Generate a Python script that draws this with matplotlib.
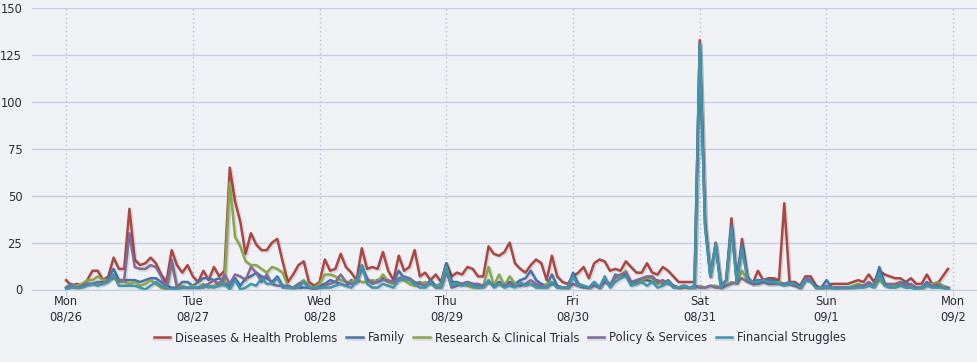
import matplotlib
matplotlib.use('Agg')
import matplotlib.pyplot as plt
import matplotlib.patheffects as pe
import numpy as np
import pandas as pd

# hourly counts, Mon 08/26 00:00 .. Sun 09/1 23:00
times = pd.date_range('2019-08-26', periods=168, freq='h')

diseases = [
    5, 2, 3, 2, 5, 10, 10, 5, 7, 17, 11, 11, 43, 16, 13, 14, 17, 14, 8, 4, 21, 13, 9, 13,
    7, 4, 10, 5, 12, 7, 10, 65, 47, 36, 19, 30, 24, 21, 21, 25, 27, 15, 4, 8, 13, 15, 4, 2,
    4, 16, 10, 11, 19, 12, 9, 5, 22, 11, 12, 11, 20, 10, 5, 18, 10, 12, 21, 7, 9, 5, 8, 4,
    14, 7, 9, 8, 12, 11, 7, 7, 23, 19, 18, 20, 25, 14, 11, 9, 13, 16, 14, 5, 18, 7, 4, 3,
    7, 9, 12, 6, 14, 16, 15, 10, 11, 10, 15, 12, 9, 9, 14, 9, 8, 12, 10, 7, 4, 4, 4, 4,
    133, 36, 7, 25, 2, 5, 38, 4, 27, 7, 3, 10, 5, 6, 6, 5, 46, 4, 4, 2, 7, 7, 2, 1,
    1, 3, 3, 3, 3, 4, 5, 4, 8, 4, 10, 8, 7, 6, 6, 4, 6, 3, 3, 8, 3, 3, 7, 11,
]
family = [
    1, 3, 1, 2, 3, 3, 4, 4, 6, 11, 5, 5, 5, 5, 4, 5, 6, 6, 4, 2, 1, 1, 4, 4,
    2, 4, 6, 6, 5, 6, 4, 1, 6, 2, 6, 7, 9, 7, 6, 4, 7, 2, 1, 1, 1, 1, 1, 1,
    2, 3, 5, 4, 3, 2, 5, 4, 13, 5, 4, 5, 6, 4, 4, 10, 6, 6, 3, 4, 2, 5, 2, 3,
    14, 4, 4, 3, 4, 3, 2, 2, 4, 2, 4, 3, 4, 3, 5, 6, 10, 5, 3, 2, 8, 2, 1, 1,
    9, 3, 2, 1, 4, 1, 6, 2, 8, 7, 8, 3, 4, 5, 5, 4, 5, 3, 5, 2, 1, 2, 1, 1,
    131, 35, 7, 24, 1, 5, 34, 4, 24, 6, 4, 5, 5, 5, 5, 4, 3, 4, 3, 1, 6, 5, 1, 1,
    5, 1, 1, 1, 1, 1, 2, 2, 3, 2, 12, 3, 2, 2, 3, 4, 2, 1, 1, 4, 2, 2, 2, 1,
]
research = [
    1, 2, 2, 3, 5, 5, 7, 5, 5, 6, 4, 4, 3, 4, 2, 3, 5, 3, 1, 0, 14, 1, 2, 1,
    2, 1, 3, 1, 2, 4, 2, 57, 28, 23, 15, 13, 13, 11, 9, 12, 11, 9, 2, 1, 3, 5, 2, 1,
    3, 8, 8, 7, 5, 4, 4, 5, 4, 4, 5, 4, 8, 4, 3, 5, 5, 3, 2, 3, 4, 3, 2, 2,
    12, 3, 3, 3, 2, 1, 1, 2, 12, 2, 8, 2, 7, 3, 2, 3, 3, 2, 1, 3, 4, 1, 1, 1,
    3, 2, 2, 1, 3, 1, 5, 3, 6, 7, 10, 3, 3, 5, 6, 6, 3, 4, 4, 2, 1, 1, 1, 1,
    2, 1, 2, 2, 1, 2, 4, 3, 10, 5, 3, 3, 4, 3, 3, 4, 3, 3, 2, 1, 5, 5, 1, 1,
    1, 1, 1, 1, 1, 2, 3, 2, 3, 2, 5, 2, 2, 2, 3, 2, 2, 1, 1, 2, 3, 4, 2, 1,
]
policy = [
    1, 2, 1, 2, 3, 3, 4, 3, 5, 8, 5, 5, 30, 12, 11, 11, 13, 12, 7, 1, 16, 1, 1, 1,
    1, 1, 2, 3, 5, 2, 8, 3, 8, 7, 5, 12, 9, 4, 8, 3, 2, 2, 2, 1, 3, 4, 1, 0,
    1, 2, 3, 4, 8, 4, 3, 4, 11, 6, 3, 4, 5, 5, 4, 6, 7, 6, 4, 3, 2, 4, 1, 1,
    10, 1, 2, 3, 4, 3, 3, 2, 4, 2, 3, 2, 3, 2, 2, 3, 5, 3, 2, 1, 3, 2, 1, 1,
    3, 2, 1, 1, 2, 1, 4, 2, 7, 8, 9, 4, 5, 6, 7, 7, 4, 5, 3, 2, 1, 2, 1, 2,
    1, 1, 2, 1, 1, 2, 3, 4, 6, 4, 3, 3, 4, 3, 3, 3, 3, 3, 2, 1, 6, 5, 1, 1,
    2, 1, 1, 1, 1, 1, 2, 2, 4, 2, 8, 3, 3, 3, 4, 2, 3, 1, 1, 3, 2, 3, 1, 1,
]
financial = [
    0, 1, 1, 1, 2, 3, 2, 3, 4, 8, 2, 2, 2, 2, 1, 0, 2, 4, 2, 1, 0, 0, 1, 1,
    1, 1, 1, 2, 1, 2, 3, 0, 5, 0, 1, 3, 2, 6, 3, 3, 6, 1, 1, 1, 1, 4, 1, 1,
    1, 1, 1, 2, 3, 2, 1, 4, 13, 3, 1, 1, 3, 2, 1, 5, 6, 5, 3, 1, 1, 4, 1, 1,
    12, 2, 3, 2, 3, 2, 1, 1, 5, 1, 3, 1, 2, 1, 4, 2, 3, 1, 1, 1, 4, 1, 1, 1,
    7, 2, 2, 1, 4, 1, 7, 1, 4, 6, 7, 2, 3, 4, 2, 4, 1, 2, 4, 1, 1, 2, 1, 1,
    131, 33, 7, 24, 1, 5, 33, 4, 22, 6, 4, 4, 5, 4, 4, 3, 2, 3, 3, 1, 5, 4, 1, 1,
    1, 1, 0, 1, 1, 1, 1, 1, 2, 1, 9, 2, 1, 1, 2, 1, 1, 0, 1, 2, 1, 1, 1, 0,
]

series_names = ['Diseases & Health Problems', 'Family', 'Research & Clinical Trials',
                'Policy & Services', 'Financial Struggles']
colors = ['#AA4643', '#4572A7', '#89A54E', '#80699B', '#3D96AE']
tick_labels = ['Mon\n08/26', 'Tue\n08/27', 'Wed\n08/28', 'Thu\n08/29', 'Fri\n08/30',
               'Sat\n08/31', 'Sun\n09/1', 'Mon\n09/2']

bg = '#f0f1f4'
fig = plt.figure(figsize=(9.77, 3.62), dpi=100, facecolor=bg)
ax = fig.add_axes([32 / 977, 1 - 289.5 / 362, 1 - 32 / 977, (289.5 - 8.3) / 362])
ax.set_facecolor(bg)

shadow = [pe.SimpleLineShadow(offset=(0.8, -0.8), alpha=0.1, shadow_color='black', linewidth=2.6),
          pe.Normal()]
for vals, name, c in zip([diseases, family, research, policy, financial], series_names, colors):
    ax.plot(times, vals, color=c, lw=1.8, label=name, path_effects=shadow)

day_ticks = pd.date_range('2019-08-26', periods=8, freq='D')
ax.set_xticks(day_ticks)
ax.set_xticklabels(tick_labels, fontsize=8.3, color='#2b2b33', linespacing=1.25)
ax.set_xlim(times[0] - pd.Timedelta(hours=6.45), times[0] + pd.Timedelta(hours=172.5))
ax.set_ylim(0, 150)
ax.set_yticks(np.arange(0, 151, 25))
ax.tick_params(axis='y', length=0, labelsize=8.3, labelcolor='#2b2b33', pad=7)
ax.tick_params(axis='x', length=4, color='#c0d0e0', pad=0)

ax.grid(axis='y', color='#c4cfe3', lw=1)
for d in day_ticks:
    ax.axvline(d, color='#aab3dd', lw=0.9, ls=(0, (1, 2.5)), zorder=0)
ax.set_axisbelow(True)
for s in ['top', 'right', 'left']:
    ax.spines[s].set_visible(False)
ax.spines['bottom'].set_color('#c0d0e0')

fig.legend(loc='center', bbox_to_anchor=(0.512, 1 - 338 / 362), ncol=5, frameon=False,
           fontsize=8.3, handlelength=1.4, columnspacing=0.75, handletextpad=0.45,
           labelcolor='#2b2b33')

fig.savefig('out.png', dpi=100, facecolor=bg)
